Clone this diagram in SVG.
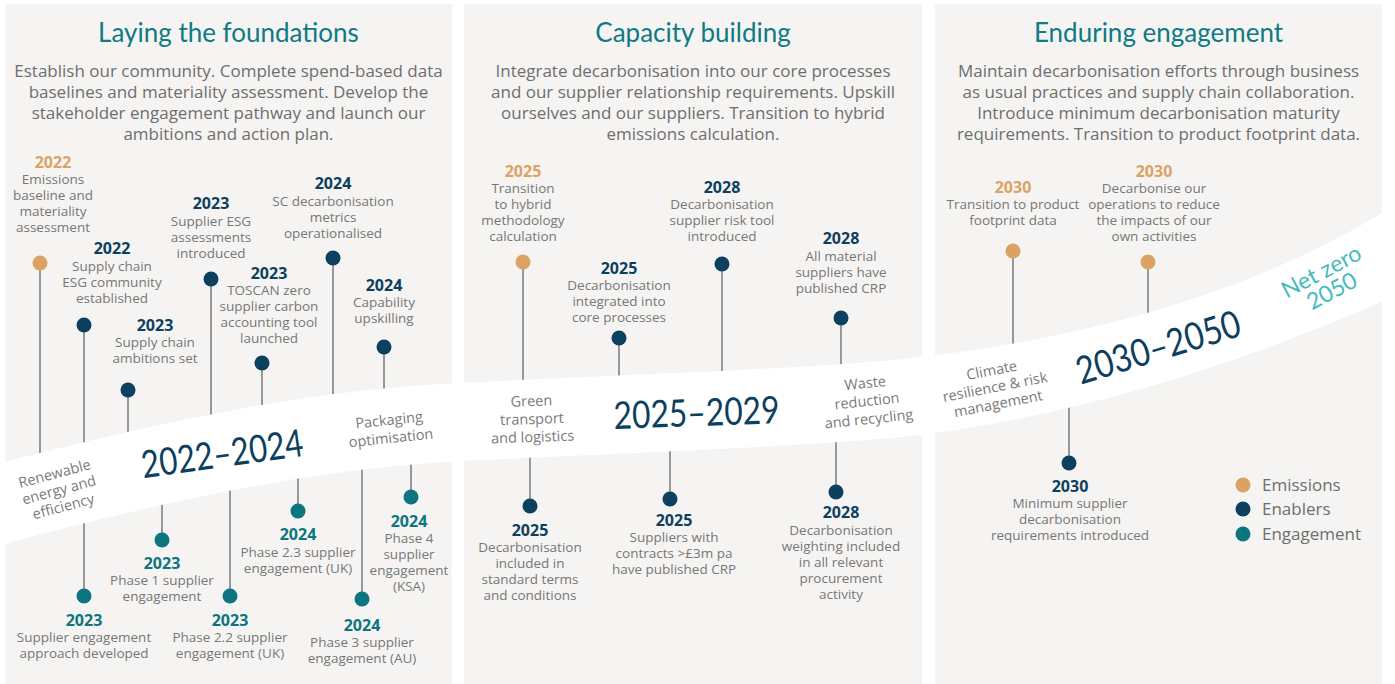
<svg xmlns="http://www.w3.org/2000/svg" width="1395" height="684" viewBox="0 0 1395 684">
<style>
.panel{fill:#f5f4f2}
.title{font-family:Lato,"Open Sans",sans-serif;font-size:26px;fill:#0f7a83;text-anchor:middle}
.desc{font-family:"Open Sans","Noto Sans",sans-serif;font-size:17px;fill:#6e6e6e;text-anchor:middle}
.yr{font-family:"Open Sans","Noto Sans",sans-serif;font-size:16px;font-weight:bold;text-anchor:middle}
.lbl{font-family:"Open Sans","Noto Sans",sans-serif;font-size:13.5px;fill:#777777;text-anchor:middle}
.band{font-family:"Open Sans","Noto Sans",sans-serif;font-size:14.5px;fill:#7a7a7a;text-anchor:middle}
.period{font-family:Lato,"Open Sans",sans-serif;font-size:38px;fill:#0d3f5f;text-anchor:middle}
.net{font-family:Lato,"Open Sans",sans-serif;font-size:23px;fill:#45bcbc;text-anchor:middle}
.leg{font-family:"Open Sans","Noto Sans",sans-serif;font-size:17px;fill:#6e6e6e}
.stem{stroke:#8e8e8e;stroke-width:1.8;fill:none}
.em{fill:#dba266}
.en{fill:#0d3f5f}
.eg{fill:#0c7580}
</style>
<rect width="1395" height="684" fill="#ffffff"/>
<g id="panels">
<rect class="panel" x="5" y="4" width="447" height="680"/>
<rect class="panel" x="464" y="4" width="458" height="680"/>
<rect class="panel" x="935" y="4" width="447" height="680"/>
</g>
<g id="headers">
<text class="title" x="228.5" y="42">Laying the foundations</text>
<text class="desc" x="228.5" y="77">Establish our community. Complete spend-based data</text>
<text class="desc" x="228.5" y="98">baselines and materiality assessment. Develop the</text>
<text class="desc" x="228.5" y="119">stakeholder engagement pathway and launch our</text>
<text class="desc" x="228.5" y="140">ambitions and action plan.</text>
<text class="title" x="693" y="42">Capacity building</text>
<text class="desc" x="693" y="77">Integrate decarbonisation into our core processes</text>
<text class="desc" x="693" y="98">and our supplier relationship requirements. Upskill</text>
<text class="desc" x="693" y="119">ourselves and our suppliers. Transition to hybrid</text>
<text class="desc" x="693" y="140">emissions calculation.</text>
<text class="title" x="1158.5" y="42">Enduring engagement</text>
<text class="desc" x="1158.5" y="77">Maintain decarbonisation efforts through business</text>
<text class="desc" x="1158.5" y="98">as usual practices and supply chain collaboration.</text>
<text class="desc" x="1158.5" y="119">Introduce minimum decarbonisation maturity</text>
<text class="desc" x="1158.5" y="140">requirements. Transition to product footprint data.</text>
</g>
<g id="connectors">
<line class="stem" x1="40" y1="263" x2="40" y2="475"/>
<line class="stem" x1="84" y1="325" x2="84" y2="465"/>
<line class="stem" x1="128" y1="390" x2="128" y2="455"/>
<line class="stem" x1="211" y1="279" x2="211" y2="435"/>
<line class="stem" x1="262" y1="363" x2="262" y2="428"/>
<line class="stem" x1="333" y1="258" x2="333" y2="415"/>
<line class="stem" x1="384" y1="347" x2="384" y2="410"/>
<line class="stem" x1="523" y1="262" x2="523" y2="400"/>
<line class="stem" x1="619" y1="338" x2="619" y2="398"/>
<line class="stem" x1="722" y1="264" x2="722" y2="395"/>
<line class="stem" x1="841" y1="318" x2="841" y2="388"/>
<line class="stem" x1="1013" y1="251" x2="1013" y2="368"/>
<line class="stem" x1="1148" y1="262" x2="1148" y2="335"/>
<line class="stem" x1="84" y1="503" x2="84" y2="596"/>
<line class="stem" x1="162" y1="485" x2="162" y2="540"/>
<line class="stem" x1="230" y1="470" x2="230" y2="596"/>
<line class="stem" x1="298" y1="458" x2="298" y2="511"/>
<line class="stem" x1="362" y1="450" x2="362" y2="599"/>
<line class="stem" x1="411" y1="446" x2="411" y2="497"/>
<line class="stem" x1="530" y1="438" x2="530" y2="506"/>
<line class="stem" x1="670" y1="430" x2="670" y2="499"/>
<line class="stem" x1="836" y1="423" x2="836" y2="492"/>
<line class="stem" x1="1069" y1="393" x2="1069" y2="463"/>
</g>
<g id="ribbon">
<path fill="#ffffff" d="M0,463 C150,425 300,390 460,383 C650,373 850,368 935,355 C1100,335 1260,290 1395,205 L1395,296 C1250,360 1100,410 935,433 C850,445 650,452 460,461 C300,470 150,505 0,545 Z"/>
<text class="period" transform="translate(224,467) rotate(-8)" textLength="163" lengthAdjust="spacingAndGlyphs">2022–2024</text>
<text class="period" transform="translate(697,426) rotate(-2)" textLength="166" lengthAdjust="spacingAndGlyphs">2025–2029</text>
<text class="period" transform="translate(1162,360) rotate(-17)" textLength="170" lengthAdjust="spacingAndGlyphs">2030–2050</text>
<text class="net" transform="translate(1327,282) rotate(-28)"><tspan x="0" y="-4">Net zero</tspan><tspan x="0" y="18">2050</tspan></text>
<text class="band" transform="translate(59,490) rotate(-15)"><tspan x="0" y="-12">Renewable</tspan><tspan x="0" y="5">energy and</tspan><tspan x="0" y="22">efficiency</tspan></text>
<text class="band" transform="translate(390,429) rotate(-6)"><tspan x="0" y="-4">Packaging</tspan><tspan x="0" y="14">optimisation</tspan></text>
<text class="band" transform="translate(532,419) rotate(-2)"><tspan x="0" y="-13">Green</tspan><tspan x="0" y="5">transport</tspan><tspan x="0" y="23">and logistics</tspan></text>
<text class="band" transform="translate(867,401) rotate(-6)"><tspan x="0" y="-13">Waste</tspan><tspan x="0" y="5">reduction</tspan><tspan x="0" y="23">and recycling</tspan></text>
<text class="band" transform="translate(995,387) rotate(-11)"><tspan x="0" y="-12">Climate</tspan><tspan x="0" y="5">resilience &amp; risk</tspan><tspan x="0" y="22">management</tspan></text>
</g>
<g id="ev1"><circle class="em" cx="40" cy="263" r="7.5"/><text class="yr em" x="53" y="168">2022</text><text class="lbl"><tspan x="53" y="184">Emissions</tspan><tspan x="53" y="200">baseline and</tspan><tspan x="53" y="216">materiality</tspan><tspan x="53" y="232">assessment</tspan></text></g>
<g id="ev2"><circle class="en" cx="84" cy="325" r="7.5"/><text class="yr en" x="112" y="254">2022</text><text class="lbl"><tspan x="112" y="271">Supply chain</tspan><tspan x="112" y="287">ESG community</tspan><tspan x="112" y="303">established</tspan></text></g>
<g id="ev3"><circle class="en" cx="128" cy="390" r="7.5"/><text class="yr en" x="155" y="331">2023</text><text class="lbl"><tspan x="155" y="347">Supply chain</tspan><tspan x="155" y="363">ambitions set</tspan></text></g>
<g id="ev4"><circle class="en" cx="211" cy="279" r="7.5"/><text class="yr en" x="211" y="209">2023</text><text class="lbl"><tspan x="211" y="226">Supplier ESG</tspan><tspan x="211" y="242">assessments</tspan><tspan x="211" y="258">introduced</tspan></text></g>
<g id="ev5"><circle class="en" cx="262" cy="363" r="7.5"/><text class="yr en" x="269" y="279">2023</text><text class="lbl"><tspan x="269" y="295">TOSCAN zero</tspan><tspan x="269" y="311">supplier carbon</tspan><tspan x="269" y="327">accounting tool</tspan><tspan x="269" y="343">launched</tspan></text></g>
<g id="ev6"><circle class="en" cx="333" cy="258" r="7.5"/><text class="yr en" x="333" y="189">2024</text><text class="lbl"><tspan x="333" y="206">SC decarbonisation</tspan><tspan x="333" y="222">metrics</tspan><tspan x="333" y="238">operationalised</tspan></text></g>
<g id="ev7"><circle class="en" cx="384" cy="347" r="7.5"/><text class="yr en" x="384" y="291">2024</text><text class="lbl"><tspan x="384" y="307">Capability</tspan><tspan x="384" y="323">upskilling</tspan></text></g>
<g id="ev8"><circle class="eg" cx="84" cy="596" r="7.5"/><text class="yr eg" x="84" y="626">2023</text><text class="lbl"><tspan x="84" y="642">Supplier engagement</tspan><tspan x="84" y="658">approach developed</tspan></text></g>
<g id="ev9"><circle class="eg" cx="162" cy="540" r="7.5"/><text class="yr eg" x="162" y="569">2023</text><text class="lbl"><tspan x="162" y="585">Phase 1 supplier</tspan><tspan x="162" y="601">engagement</tspan></text></g>
<g id="ev10"><circle class="eg" cx="230" cy="596" r="7.5"/><text class="yr eg" x="230" y="626">2023</text><text class="lbl"><tspan x="230" y="642">Phase 2.2 supplier</tspan><tspan x="230" y="658">engagement (UK)</tspan></text></g>
<g id="ev11"><circle class="eg" cx="298" cy="511" r="7.5"/><text class="yr eg" x="298" y="540">2024</text><text class="lbl"><tspan x="298" y="557">Phase 2.3 supplier</tspan><tspan x="298" y="573">engagement (UK)</tspan></text></g>
<g id="ev12"><circle class="eg" cx="362" cy="599" r="7.5"/><text class="yr eg" x="362" y="631">2024</text><text class="lbl"><tspan x="362" y="647">Phase 3 supplier</tspan><tspan x="362" y="663">engagement (AU)</tspan></text></g>
<g id="ev13"><circle class="eg" cx="411" cy="497" r="7.5"/><text class="yr eg" x="409" y="527">2024</text><text class="lbl"><tspan x="409" y="543">Phase 4</tspan><tspan x="409" y="559">supplier</tspan><tspan x="409" y="575">engagement</tspan><tspan x="409" y="591">(KSA)</tspan></text></g>
<g id="ev14"><circle class="em" cx="523" cy="262" r="7.5"/><text class="yr em" x="523" y="177">2025</text><text class="lbl"><tspan x="523" y="193">Transition</tspan><tspan x="523" y="209">to hybrid</tspan><tspan x="523" y="225">methodology</tspan><tspan x="523" y="241">calculation</tspan></text></g>
<g id="ev15"><circle class="en" cx="619" cy="338" r="7.5"/><text class="yr en" x="619" y="274">2025</text><text class="lbl"><tspan x="619" y="290">Decarbonisation</tspan><tspan x="619" y="306">integrated into</tspan><tspan x="619" y="322">core processes</tspan></text></g>
<g id="ev16"><circle class="en" cx="722" cy="264" r="7.5"/><text class="yr en" x="722" y="193">2028</text><text class="lbl"><tspan x="722" y="209">Decarbonisation</tspan><tspan x="722" y="225">supplier risk tool</tspan><tspan x="722" y="241">introduced</tspan></text></g>
<g id="ev17"><circle class="en" cx="841" cy="318" r="7.5"/><text class="yr en" x="841" y="244">2028</text><text class="lbl"><tspan x="841" y="261">All material</tspan><tspan x="841" y="277">suppliers have</tspan><tspan x="841" y="293">published CRP</tspan></text></g>
<g id="ev18"><circle class="en" cx="530" cy="506" r="7.5"/><text class="yr en" x="530" y="536">2025</text><text class="lbl"><tspan x="530" y="552">Decarbonisation</tspan><tspan x="530" y="568">included in</tspan><tspan x="530" y="584">standard terms</tspan><tspan x="530" y="600">and conditions</tspan></text></g>
<g id="ev19"><circle class="en" cx="670" cy="499" r="7.5"/><text class="yr en" x="674" y="526">2025</text><text class="lbl"><tspan x="674" y="542">Suppliers with</tspan><tspan x="674" y="558">contracts &gt;£3m pa</tspan><tspan x="674" y="574">have published CRP</tspan></text></g>
<g id="ev20"><circle class="en" cx="836" cy="492" r="7.5"/><text class="yr en" x="841" y="518">2028</text><text class="lbl"><tspan x="841" y="535">Decarbonisation</tspan><tspan x="841" y="551">weighting included</tspan><tspan x="841" y="567">in all relevant</tspan><tspan x="841" y="583">procurement</tspan><tspan x="841" y="599">activity</tspan></text></g>
<g id="ev21"><circle class="em" cx="1013" cy="251" r="7.5"/><text class="yr em" x="1013" y="193">2030</text><text class="lbl"><tspan x="1013" y="209">Transition to product</tspan><tspan x="1013" y="225">footprint data</tspan></text></g>
<g id="ev22"><circle class="em" cx="1148" cy="262" r="7.5"/><text class="yr em" x="1154" y="177">2030</text><text class="lbl"><tspan x="1154" y="193">Decarbonise our</tspan><tspan x="1154" y="209">operations to reduce</tspan><tspan x="1154" y="225">the impacts of our</tspan><tspan x="1154" y="241">own activities</tspan></text></g>
<g id="ev23"><circle class="en" cx="1069" cy="463" r="7.5"/><text class="yr en" x="1070" y="492">2030</text><text class="lbl"><tspan x="1070" y="508">Minimum supplier</tspan><tspan x="1070" y="524">decarbonisation</tspan><tspan x="1070" y="540">requirements introduced</tspan></text></g>
<g id="legend">
<circle class="em" cx="1243" cy="485" r="7.5"/><text class="leg" x="1262" y="491">Emissions</text>
<circle class="en" cx="1243" cy="509" r="7.5"/><text class="leg" x="1262" y="515">Enablers</text>
<circle class="eg" cx="1243" cy="534" r="7.5"/><text class="leg" x="1262" y="540">Engagement</text>
</g>
</svg>
